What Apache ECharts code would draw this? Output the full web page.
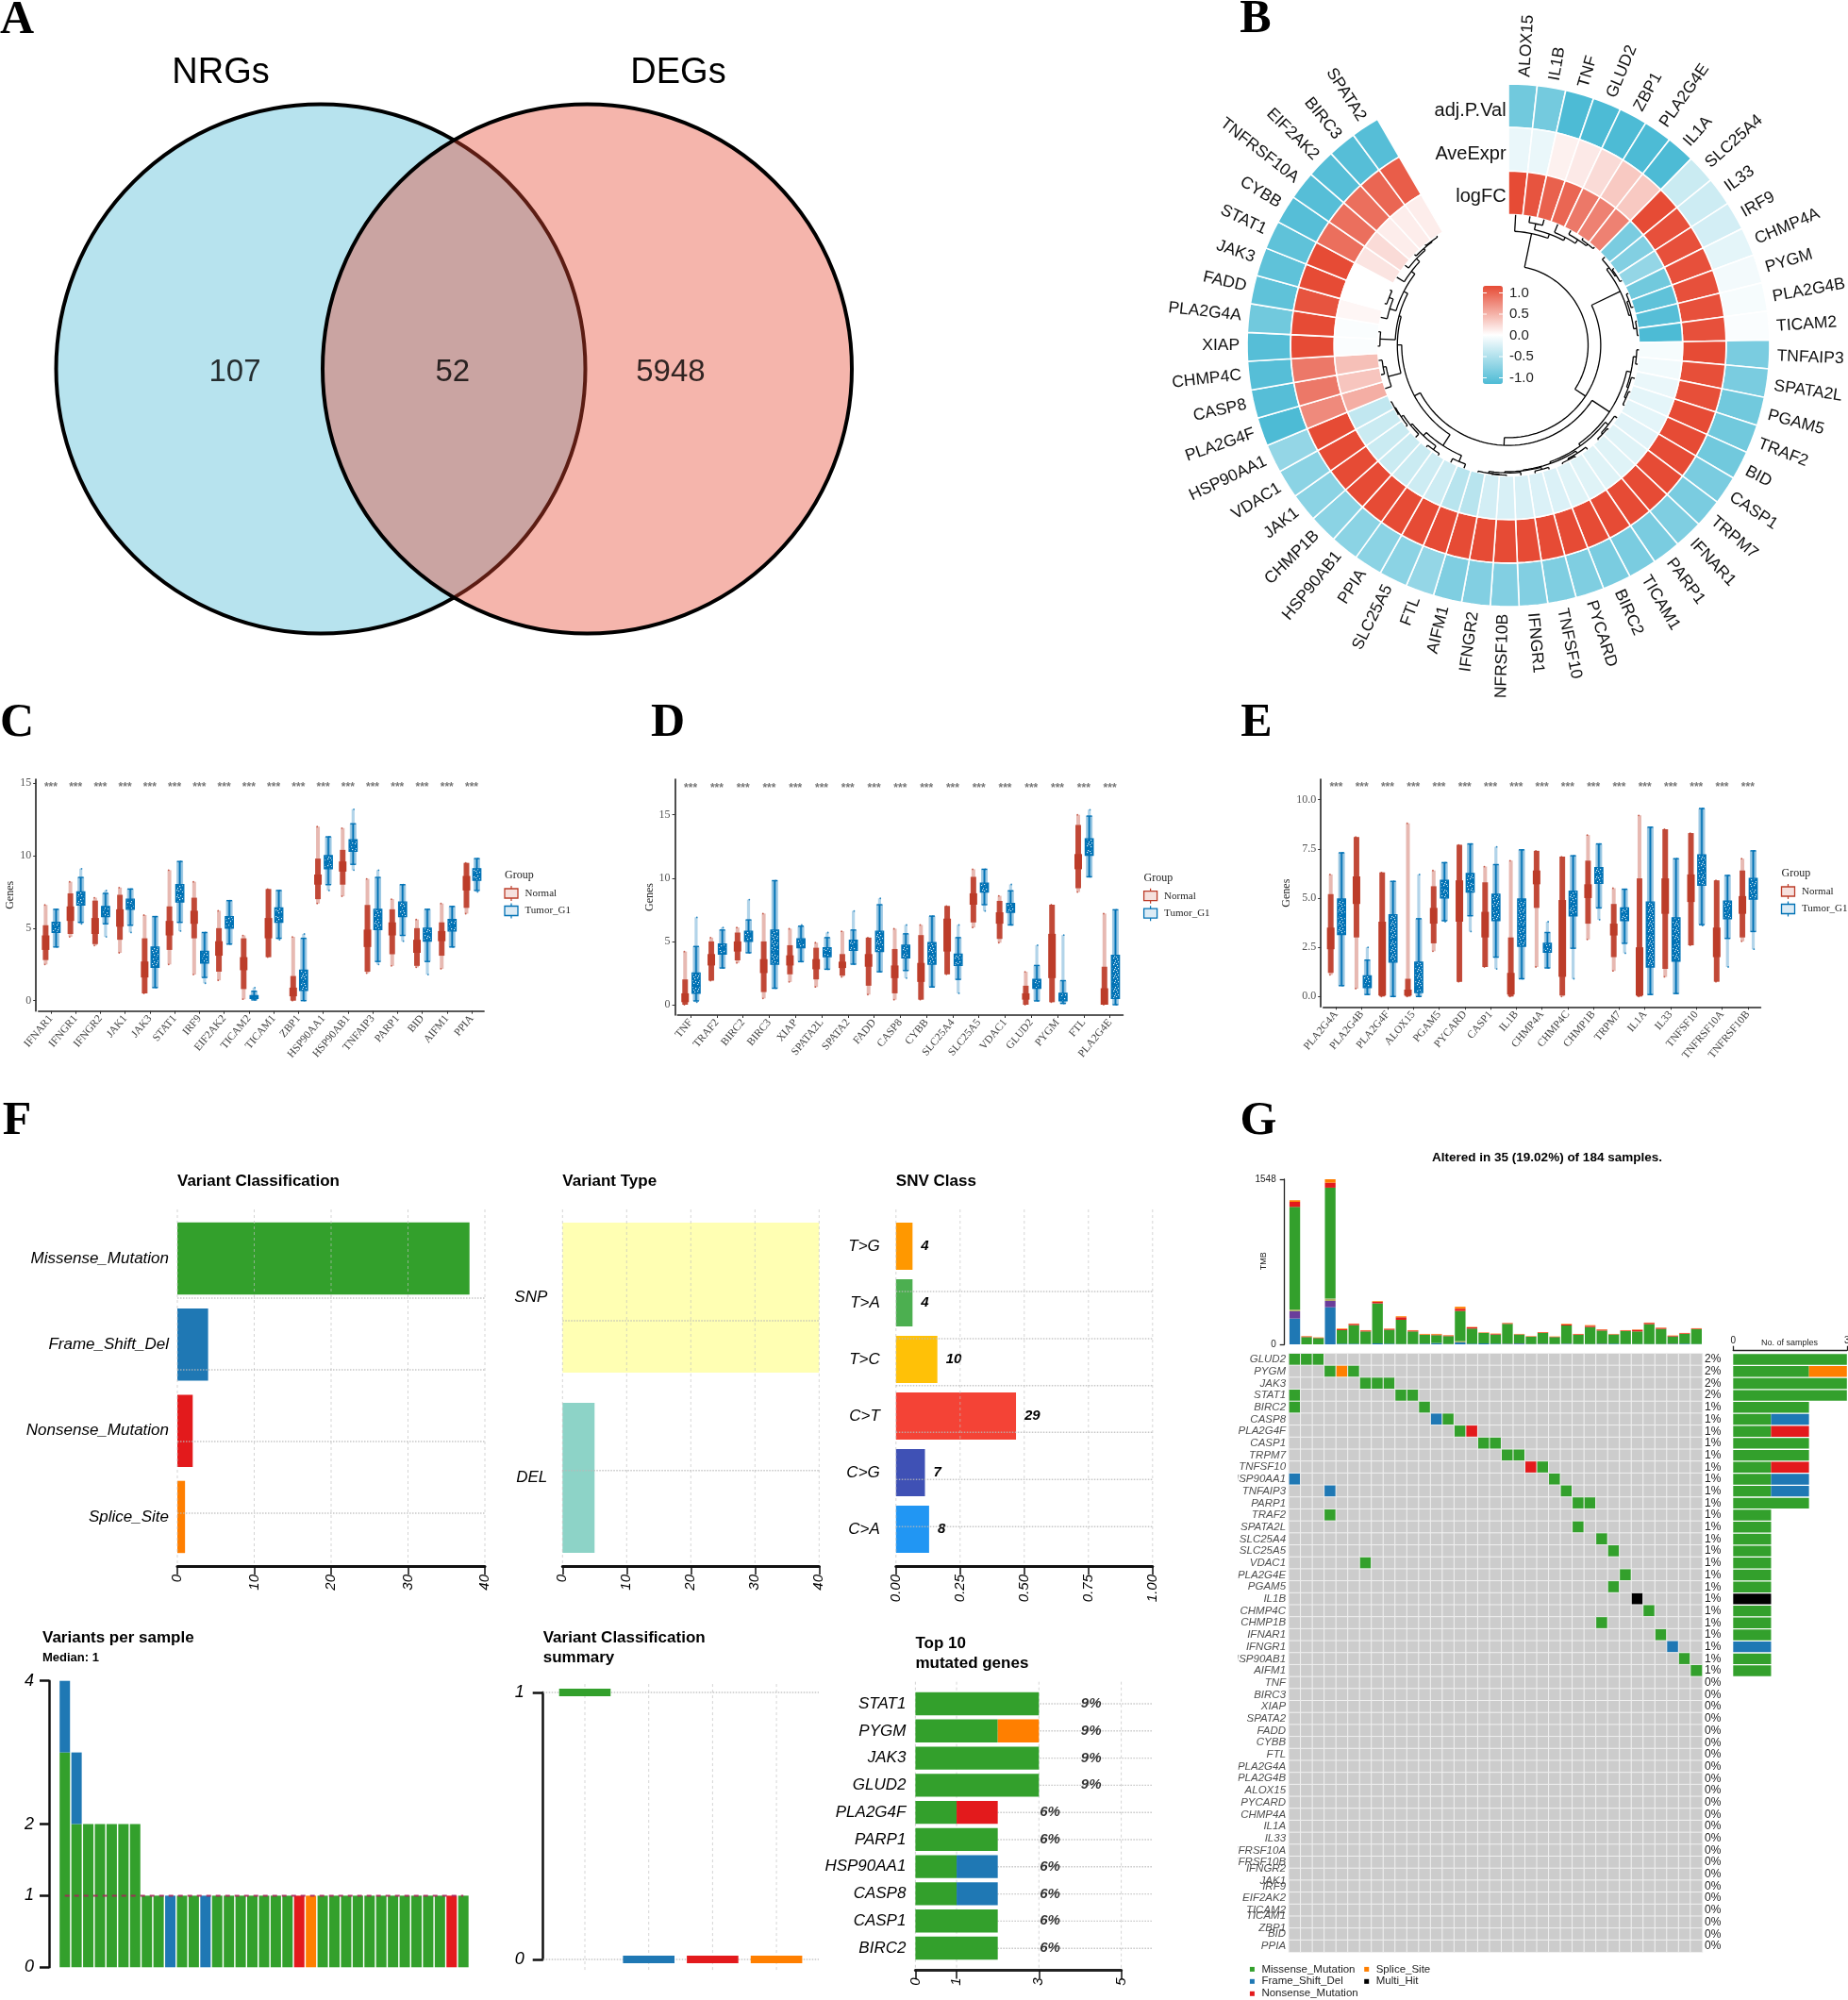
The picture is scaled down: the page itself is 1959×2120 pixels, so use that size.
<!DOCTYPE html>
<html><head><meta charset="utf-8">
<style>html,body{margin:0;padding:0;background:#fff}#c{width:1959px;height:2120px}</style>
<script src="https://cdn.jsdelivr.net/npm/echarts@6/dist/echarts.min.js"></script>
</head><body><div id="c"></div>
<script>
// ---------- DATA ----------
const vennCounts = [107, 52, 5948];
const ringGenes = ['ALOX15','IL1B','TNF','GLUD2','ZBP1','PLA2G4E','IL1A','SLC25A4','IL33','IRF9','CHMP4A','PYGM','PLA2G4B','TICAM2','TNFAIP3','SPATA2L','PGAM5','TRAF2','BID','CASP1','TRPM7','IFNAR1','PARP1','TICAM1','BIRC2','PYCARD','TNFSF10','IFNGR1','TNFRSF10B','IFNGR2','AIFM1','FTL','SLC25A5','PPIA','HSP90AB1','CHMP1B','JAK1','VDAC1','HSP90AA1','PLA2G4F','CASP8','CHMP4C','XIAP','PLA2G4A','FADD','JAK3','STAT1','CYBB','TNFRSF10A','EIF2AK2','BIRC3','SPATA2'];
const ringAdjP = [-.8,-.78,-1,-1,-1,-1,-1,-.3,-.28,-.25,-.15,-.07,-.05,-.03,-.75,-.75,-.8,-.8,-.8,-.75,-.75,-.72,-.75,-.75,-.75,-.72,-.72,-.7,-.7,-.7,-.72,-.6,-.65,-.65,-.65,-.65,-.65,-.65,-.6,-1,-.95,-.95,-.95,-.8,-.9,-.9,-.9,-.95,-.95,-.95,-.95,-.95];
const ringAveExpr = [-.12,-.12,.08,.12,.2,.3,.3,1,.97,.97,.97,.97,.97,.97,1,.98,.98,1,1,1,1,1,1,1,1,1,1,1,1,1,1,1,1,1,1,1,1,1,1,.65,.75,.75,1,1,.95,1,1,.8,.8,.8,.85,.9];
const ringLogFC = [1,.95,.88,.85,.75,.7,.7,-.75,-.7,-.6,-.8,-.9,-.95,-1,-.05,-.08,-.12,-.15,-.15,-.17,-.18,-.18,-.18,-.18,-.18,-.2,-.2,-.22,-.22,-.25,-.4,-.4,-.28,-.28,-.3,-.3,-.3,-.3,-.35,.45,.32,.35,-.03,-.03,.05,0,0,.15,.2,.1,.1,.1];
const ringTitles = ['adj.P.Val','AveExpr','logFC'];
const ringTicks = ['1.0','0.5','0.0','-0.5','-1.0'];
// dendrogram: [merge height, child, child]; a number is a gene position
const treeTop = [2.62,0,[2.72,[2.86,1,2],[2.8,3,[2.9,4,[2.95,5,6]]]]];
const treeMid = [2.85,[2.92,7,[2.95,8,9]],[2.9,[2.95,10,11],[2.97,12,13]]];
const treeRight = [2.78,[2.88,[2.95,14,15],[2.92,16,[2.96,17,18]]],[2.84,[2.93,19,[2.97,20,21]],[2.88,[2.94,22,[2.97,23,24]],[2.9,[2.95,25,26],[2.93,27,[2.97,[2.98,28,29],30]]]]]];
const treeBottom = [2.75,[2.9,31,32],[2.85,[2.95,33,34],[2.9,35,[2.96,36,[2.98,37,38]]]]];
const treeLeft = [2.55,[2.85,39,[2.92,40,41]],[2.6,[2.95,42,43],[2.7,[2.85,44,[2.95,45,46]],[2.8,47,[2.9,48,[2.95,49,[2.97,50,51]]]]]]];
const treeRoot = [1.83,treeTop,[2.12,treeMid,[2.3,treeRight,[2.45,treeBottom,treeLeft]]]];

// box rows: extreme low, whisker low, q1, median, q3, whisker high, extreme high
const cGenes = ['IFNAR1','IFNGR1','IFNGR2','JAK1','JAK3','STAT1','IRF9','EIF2AK2','TICAM2','TICAM1','ZBP1','HSP90AA1','HSP90AB1','TNFAIP3','PARP1','BID','AIFM1','PPIA'];
const cNormal = [[2.5,2.8,3.5,4,4.5,5.2,6.6],[4.4,4.6,5.5,6,6.5,7.4,8.2],[3.8,3.9,4.6,5.2,5.7,6.9,7.1],[3.3,4.2,5.1,5.7,6.3,7.3,7.8],[.5,.5,1.6,2.1,2.7,4.3,5.9],[2.5,3.5,4.5,5,5.5,6.5,9],[1.8,4.3,5.3,5.7,6.2,7.1,8.2],[1.4,2,3.1,3.6,4.1,5,6.2],[.1,.8,2.1,2.6,3,4.3,4.5],[3,3,4.3,5,5.7,7.7,7.7],[0,0,.3,.6,.9,1.7,4.4],[6.7,7,8,8.4,8.7,9.8,12],[7.2,8,8.9,9.2,9.6,10.4,11.9],[1.9,2,3.7,4.3,4.9,6.6,8.4],[2.4,3.2,4.5,5,5.4,6.3,7],[2.3,2.4,3.3,3.7,4.2,5,5.6],[2.2,3.1,4.1,4.5,4.8,5.4,6.7],[6,6.4,7.6,8.1,8.6,9.5,9.5]];
const cTumor = [[3.7,3.7,4.7,5.1,5.4,6.3,6.3],[5.3,5.4,6.6,7.1,7.5,8.5,9.1],[4.4,5.3,5.8,6.2,6.5,7.4,7.6],[4.7,5.2,6.3,6.6,7,7.7,7.7],[.9,.9,2.3,3,3.7,5.8,5.8],[4.8,5.4,6.8,7.4,8,9.6,9.6],[1.2,1.6,2.6,3,3.4,4.7,4.7],[3.9,3.9,5,5.3,5.8,6.9,6.9],[.05,.05,.15,.25,.35,.65,.9],[4.2,4.3,5.4,5.9,6.4,7.6,7.6],[0,0,.7,1.3,2.1,4.3,4.6],[7.6,8,9.1,9.5,10,11.3,11.3],[9,9.4,10.3,10.7,11.1,12.2,13.2],[2.5,2.7,4.9,5.7,6.3,8.5,9],[4.1,4.5,5.8,6.3,6.8,8,8],[1.8,2.7,4.1,4.6,5,6.3,6.3],[3.7,3.7,4.8,5.2,5.6,6.5,6.5],[7.5,7.6,8.3,8.7,9.1,9.8,9.8]];
const dGenes = ['TNF','TRAF2','BIRC2','BIRC3','XIAP','SPATA2L','SPATA2','FADD','CASP8','CYBB','SLC25A4','SLC25A5','VDAC1','GLUD2','PYGM','FTL','PLA2G4E'];
const dNormal = [[0,0,.2,.5,.9,2,4.2],[1.9,1.9,3.1,3.6,4,5,5.3],[3.3,3.5,4.2,4.6,5,5.7,6.1],[.5,1,2.5,3,3.6,5,7.2],[1.8,2.4,3.1,3.5,3.9,4.7,6],[1.4,2,2.8,3.2,3.6,4.5,4.9],[2.2,2.3,2.9,3.2,3.4,4,5.8],[.8,1.5,3,3.5,4,5.3,5.3],[.4,.9,2.1,2.6,3.1,4.4,6],[.4,.4,1.8,2.6,3.3,5.5,6.3],[2.4,2.4,4.2,5.5,6.8,7.8,7.8],[6.1,6.5,7.9,8.3,8.8,10.1,10.7],[4.9,5.2,6.4,6.9,7.3,8.2,8.6],[0,0,.4,.6,.9,1.5,2.6],[.2,.2,2.1,4,5.6,7.9,7.9],[8.9,9.2,10.7,11.4,11.9,14.2,15],[0,0,0,.3,1.3,3,7.2]];
const dTumor = [[.2,.3,.9,1.5,2.5,4.6,6.9],[2.9,2.9,4,4.4,4.8,5.9,6.1],[4.1,4.1,5,5.4,5.8,6.7,8.3],[1.3,1.3,3.2,4.2,5.9,9.8,9.8],[3.4,3.4,4.5,4.9,5.2,6.2,6.3],[2.8,2.8,3.8,4.1,4.5,5.3,5.7],[3.2,3.2,4.3,4.7,5.1,5.9,7.4],[2.6,2.6,4.2,4.6,5.8,7.9,8.4],[2.1,2.7,3.7,4.2,4.7,5.6,6.3],[1.4,1.4,3.2,4,4.9,7,7],[.9,2,3.1,3.5,4,5.3,6.3],[7.4,7.9,8.9,9.3,9.6,10.7,10.7],[6.3,6.3,7.3,7.7,8,9,9.5],[.3,.3,1.3,1.6,2,3.1,4.7],[.1,.1,.3,.6,.9,1.9,5.5],[10.1,10.1,11.8,12.3,13.1,14.9,15.4],[0,0,.5,1.6,3.9,7.5,7.5]];
const eGenes = ['PLA2G4A','PLA2G4B','PLA2G4F','ALOX15','PGAM5','PYCARD','CASP1','IL1B','CHMP4A','CHMP4C','CHMP1B','TRPM7','IL1A','IL33','TNFSF10','TNFRSF10A','TNFRSF10B'];
const eNormal = [[1.1,1.2,2.4,2.9,3.5,5.2,6.2],[.4,3,4.7,5.4,6.1,8.1,8.1],[0,0,.05,1.5,3.8,6.3,6.3],[0,0,.05,.2,.35,.9,8.8],[2.3,2.7,3.7,4.1,4.5,5.6,6.4],[.75,.75,3.8,4.7,5.9,7.7,7.7],[1.5,1.5,3,3.5,4.3,5.8,6.6],[0,0,.1,.5,1.2,3,6.9],[1.5,4.5,5.7,6.1,6.4,7.4,7.4],[0,.05,1,2.5,4.9,7.1,7.1],[2.9,3.7,5,5.4,5.7,6.9,8.2],[1.3,2,3.1,3.4,3.7,4.7,5.5],[0,0,.05,.9,2.5,6,9.2],[1,1.4,4.2,5.4,6,8.5,8.5],[2.6,2.6,4.8,5.5,6.2,8.3,8.3],[.75,.75,2,2.7,3.5,5.9,5.9],[2.8,3,4.2,4.7,5.1,6.4,7]];
const eTumor = [[.55,.55,3.15,4.1,4.95,7.3,7.3],[.1,.1,.45,.65,1.05,1.85,2.5],[0,0,1.75,2.9,4.15,5.85,5.85],[0,0,.2,.4,1.75,3.95,6.2],[3.8,3.85,5,5.5,5.9,6.8,6.8],[3.3,4.1,5.3,5.85,6.25,7.75,7.75],[1.4,2,3.85,4.4,5.2,6.7,7.6],[.9,.9,2.55,3.55,4.95,7.45,7.45],[1.45,1.45,2.25,2.5,2.7,3.25,3.8],[.9,2.45,4.1,4.7,5.35,7.15,7.15],[3.9,4.5,5.75,6.2,6.55,7.75,7.75],[2.2,2.7,3.85,4.2,4.5,5.45,5.45],[.1,.1,1.5,3.2,4.8,8.6,8.6],[.15,.15,1.8,2.75,4,7,7],[3.6,3.65,5.65,6.4,7.2,9.55,9.55],[1.5,2.95,3.95,4.35,4.85,6.15,6.15],[2.4,3.3,4.95,5.5,6,7.4,7.4]];

const vcCats = ['Missense_Mutation','Frame_Shift_Del','Nonsense_Mutation','Splice_Site'];
const vcValues = [38,4,2,1];
const vtCats = ['SNP','DEL'];
const vtValues = [40,5];
const snvCats = ['T>G','T>A','T>C','C>T','C>G','C>A'];
const snvCounts = [4,4,10,29,7,8];
const snvTotal = 62;
const vpsMissense = [3,2,2,2,2,2,2,1,1,0,1,1,0,1,1,1,1,1,1,1,0,0,1,1,1,1,1,1,1,1,1,1,1,0,1];
const vpsFrame    = [1,1,0,0,0,0,0,0,0,1,0,0,1,0,0,0,0,0,0,0,0,0,0,0,0,0,0,0,0,0,0,0,0,0,0];
const vpsNonsense = [0,0,0,0,0,0,0,0,0,0,0,0,0,0,0,0,0,0,0,0,1,0,0,0,0,0,0,0,0,0,0,0,0,1,0];
const vpsSplice   = [0,0,0,0,0,0,0,0,0,0,0,0,0,0,0,0,0,0,0,0,0,1,0,0,0,0,0,0,0,0,0,0,0,0,0];
const summaryY = [1,0,0,0];
const topGenes = ['STAT1','PYGM','JAK3','GLUD2','PLA2G4F','PARP1','HSP90AA1','CASP8','CASP1','BIRC2'];
const topMissense = [3,2,3,3,1,2,1,1,2,2];
const topFrame = [0,0,0,0,0,0,1,1,0,0];
const topNonsense = [0,0,0,0,1,0,0,0,0,0];
const topSplice = [0,1,0,0,0,0,0,0,0,0];
const topPct = ['9%','9%','9%','9%','6%','6%','6%','6%','6%','6%'];

const tmbFrame = [242,0,0,348,6,6,3,9,6,3,3,6,12,3,18,6,9,6,3,6,3,3,3,6,3,3,3,6,3,3,3,3,3,6,3];
const tmbInframe = [68,0,0,59,0,0,0,0,0,0,0,0,0,0,0,0,0,0,3,3,0,3,0,0,0,0,3,0,0,0,0,0,3,0,0];
const tmbOther = [15,0,0,21,0,0,0,0,0,0,0,0,0,0,12,0,0,0,0,0,0,0,0,3,0,0,0,0,0,0,0,0,0,0,0];
const tmbMissense = [964,68,59,1041,127,174,118,375,130,227,118,83,74,74,283,142,97,86,186,83,68,100,65,168,86,159,123,86,121,118,186,142,68,92,139];
const tmbNonsense = [47,6,3,47,9,12,9,15,9,24,9,3,6,6,21,12,3,6,6,3,3,6,3,9,6,12,9,3,6,15,12,9,6,6,6];
const tmbSplice = [15,3,3,32,6,3,3,6,3,9,3,6,6,3,18,3,3,3,3,3,3,3,3,6,3,6,3,3,3,3,3,3,3,3,3];
const oncoLabels = ['GLUD2','PYGM','JAK3','STAT1','BIRC2','CASP8','PLA2G4F','CASP1','TRPM7','TNFSF10','HSP90AA1','TNFAIP3','PARP1','TRAF2','SPATA2L','SLC25A4','SLC25A5','VDAC1','PLA2G4E','PGAM5','IL1B','CHMP4C','CHMP1B','IFNAR1','IFNGR1','HSP90AB1','AIFM1','TNF','BIRC3','XIAP','SPATA2','FADD','CYBB','FTL','PLA2G4A','PLA2G4B','ALOX15','PYCARD','CHMP4A','IL1A','IL33','TNFRSF10A','TNFRSF10B','IFNGR2','JAK1','IRF9','EIF2AK2','TICAM2','TICAM1','ZBP1','BID','PPIA'];
const oncoLabelRows = [0,1,2,3,4,5,6,7,8,9,10,11,12,13,14,15,16,17,18,19,20,21,22,23,24,25,26,27,28,29,30,31,32,33,34,35,36,37,38,39,40,41,42,42.55,43.55,44.05,45,46,46.5,47.5,48,49];
// row, sample, class (1 missense, 2 frame shift, 3 nonsense, 4 splice, 5 multi hit)
const oncoHits = [[0,0,1],[0,1,1],[0,2,1],[1,3,1],[1,4,4],[1,5,1],[2,6,1],[2,7,1],[2,8,1],[3,0,1],[3,9,1],[3,10,1],[4,0,1],[4,11,1],[5,12,2],[5,13,1],[6,14,1],[6,15,3],[7,16,1],[7,17,1],[8,18,1],[8,19,1],[9,20,3],[9,21,1],[10,0,2],[10,22,1],[11,3,2],[11,23,1],[12,24,1],[12,25,1],[13,3,1],[14,24,1],[15,26,1],[16,27,1],[17,6,1],[18,28,1],[19,27,1],[20,29,5],[21,30,1],[22,26,1],[23,31,1],[24,32,2],[25,33,1],[26,34,1]];
const oncoPct = ['2%','2%','2%','2%','1%','1%','1%','1%','1%','1%','1%','1%','1%','1%','1%','1%','1%','1%','1%','1%','1%','1%','1%','1%','1%','1%','1%','0%','0%','0%','0%','0%','0%','0%','0%','0%','0%','0%','0%','0%','0%','0%','0%','0%','0%','0%','0%','0%','0%','0%'];
const sideMissense = [3,2,3,3,2,1,1,2,2,1,1,1,2,1,1,1,1,1,1,1,0,1,1,1,0,1,1];
const sideFrame    = [0,0,0,0,0,1,0,0,0,0,1,1,0,0,0,0,0,0,0,0,0,0,0,0,1,0,0];
const sideNonsense = [0,0,0,0,0,0,1,0,0,1,0,0,0,0,0,0,0,0,0,0,0,0,0,0,0,0,0];
const sideSplice   = [0,1,0,0,0,0,0,0,0,0,0,0,0,0,0,0,0,0,0,0,0,0,0,0,0,0,0];
const sideMulti    = [0,0,0,0,0,0,0,0,0,0,0,0,0,0,0,0,0,0,0,0,1,0,0,0,0,0,0];

// ---------- STYLE ----------
const SANS='"Liberation Sans",Arial,sans-serif', SERIF='"Liberation Serif",serif';
const GREEN='#33A02C',BLUE='#1F78B4',RED='#E31A1C',ORANGE='#FF7F00',PURPLE='#6A3D9A',OLIVE='#B2B266';
const NRED='#BC3C29',NBLUE='#0072B5';

const grid=[],xAxis=[],yAxis=[],series=[],graphic=[],visualMap=[];
const addGrid=(l,t,r,b)=>(grid.push({left:l,top:t,width:r-l,height:b-t,outerBoundsMode:'none'}),grid.length-1);
const addX=o=>(xAxis.push(o),xAxis.length-1);
const addY=o=>(yAxis.push(o),yAxis.length-1);
const hiddenVal=(g,min,max,extra)=>Object.assign({gridIndex:g,type:'value',min,max,show:false},extra||{});
function T(text,x,y,o){o=o||{};graphic.push({type:'text',x,y,rotation:o.rotation||0,z:o.z||50,silent:true,style:{text,fontFamily:o.family||SANS,fontSize:o.size||14,fontWeight:o.weight||'normal',fontStyle:o.style||'normal',fill:o.fill||'#000',align:o.align||'left',verticalAlign:'middle'}});}
function R(x,y,w,h,fill,z,stroke){graphic.push({type:'rect',z:z||40,silent:true,shape:{x,y,width:w,height:h},style:{fill,stroke:stroke||null,lineWidth:stroke?1.3:0}});}
function L(x1,y1,x2,y2,stroke,w){graphic.push({type:'line',z:41,silent:true,shape:{x1,y1,x2,y2},style:{stroke,lineWidth:w||1}});}
function lineSet(xi,yi,segs,style,z){
  const d=[];segs.forEach(s=>{d.push([s[0],s[1]],[s[2],s[3]],['-','-']);});
  series.push({type:'line',xAxisIndex:xi,yAxisIndex:yi,data:d,showSymbol:false,silent:true,clip:false,connectNulls:false,lineStyle:style,z:z||3,animation:false});
}

// panel letters
[['A',18,22],['B',1331,21],['C',18,767],['D',708,767],['E',1332,767],['F',18,1189],['G',1334,1189]].forEach(p=>T(p[0],p[1],p[2],{family:SERIF,size:50,weight:'bold',align:'center'}));

// ---------- A: Venn ----------
(function(){
  const g=addGrid(340,251,622.5,531);
  const x=addX(hiddenVal(g,0,1)), y=addY(hiddenVal(g,0,1));
  const base={type:'scatter',xAxisIndex:x,yAxisIndex:y,clip:false,silent:true,symbol:'circle',symbolSize:561};
  series.push(Object.assign({},base,{data:[[0,.5]],z:2,itemStyle:{color:'#B7E3EE',borderColor:'#000',borderWidth:4,opacity:1}}));
  series.push(Object.assign({},base,{data:[[1,.5]],z:3,itemStyle:{color:'rgba(230,70,47,0.40)',borderColor:'#000',borderWidth:4,opacity:1}}));
  series.push({type:'scatter',xAxisIndex:x,yAxisIndex:y,clip:false,silent:true,symbolSize:1,z:4,itemStyle:{color:'rgba(0,0,0,0)'},
    data:[[-.322,.486],[.495,.486],[1.313,.486]].map((p,i)=>({value:p,label:{show:true,position:'inside',formatter:String(vennCounts[i]),fontFamily:SANS,fontSize:33,color:'#000',textBorderWidth:0}}))});
  T('NRGs',234,78,{size:38,align:'center'});
  T('DEGs',719,78,{size:38,align:'center'});
})();

// ---------- B: circular heatmap ----------
const slots=56.74;
const polar={center:[1599,366],radius:[0,277]};
const angleAxis={type:'value',min:0,max:slots,startAngle:90,clockwise:true,show:false};
const radiusAxis={type:'value',min:0,max:6,show:false};
(function(){
  const data=[];
  ringGenes.forEach((g,i)=>{data.push([i,5,ringAdjP[i]],[i,4,ringAveExpr[i]],[i,3,ringLogFC[i]]);});
  series.push({type:'custom',coordinateSystem:'polar',encode:{angle:0,radius:1},data,silent:true,z:3,
    renderItem(p,api){
      const a=api.value(0),r=api.value(1),pts=[];
      for(let k=0;k<=3;k++){const c=api.coord([r,a+k/3]);pts.push([c[0],c[1]]);}
      for(let k=3;k>=0;k--){const c=api.coord([r+1,a+k/3]);pts.push([c[0],c[1]]);}
      return {type:'polygon',shape:{points:pts},style:{fill:api.visual('color'),stroke:'#fff',lineWidth:1.6}};
    }});
  visualMap.push({type:'continuous',seriesIndex:series.length-1,dimension:2,min:-1,max:1,calculable:false,hoverLink:false,padding:0,left:1572,top:303,itemWidth:21,itemHeight:104,inRange:{color:['#4DBBD5','#FFFFFF','#E64B35']}});
  // dendrogram
  series.push({type:'custom',coordinateSystem:'polar',encode:{angle:0,radius:1},data:[[0,0]],silent:true,z:4,
    renderItem(p,api){
      const kids=[];
      const pl=pts=>kids.push({type:'polyline',shape:{points:pts.map(q=>{const c=api.coord(q);return [c[0],c[1]];})},style:{stroke:'#000',lineWidth:1.3,fill:null}});
      function walk(n){
        if(typeof n==='number') return [n+.5,3];
        const A=walk(n[1]),B=walk(n[2]),r=n[0];
        pl([[A[1],A[0]],[r,A[0]]]);pl([[B[1],B[0]],[r,B[0]]]);
        const arc=[];const steps=Math.max(2,Math.ceil(Math.abs(B[0]-A[0])/.4));
        for(let k=0;k<=steps;k++)arc.push([r,A[0]+(B[0]-A[0])*k/steps]);
        pl(arc);
        return [(A[0]+B[0])/2,r];
      }
      walk(treeRoot);
      return {type:'group',children:kids};
    }});
  // gene labels
  series.push({type:'custom',coordinateSystem:'polar',encode:{angle:0,radius:1},data:ringGenes.map((g,i)=>[i+.55,6.17]),silent:true,z:5,
    renderItem(p,api){
      const c=api.coord([api.value(1),api.value(0)]);
      const th=api.value(0)/slots*360;
      const right=th<180;
      const rot=(right?90-th:270-th)*Math.PI/180;
      return {type:'text',x:c[0],y:c[1],rotation:rot,style:{text:ringGenes[p.dataIndex],fontFamily:SANS,fontSize:17.5,fill:'#111',align:right?'left':'right',verticalAlign:'middle'}};
    }});
  T(ringTitles[0],1596.6,117,{size:20,align:'right',fill:'#111'});
  T(ringTitles[1],1596.6,163,{size:20,align:'right',fill:'#111'});
  T(ringTitles[2],1596.6,208,{size:20,align:'right',fill:'#111'});
  [310.5,333,355.5,378,400.5].forEach((y,i)=>{T(ringTicks[i],1600,y,{size:15,fill:'#222'});L(1572,y,1576,y,'#fff',1);L(1589,y,1593,y,'#fff',1);});
  R(1500,739,200,20,'#fff',45); // the reference image cuts the lowest label here
})();

// ---------- C, D, E: box + jitter ----------
function tile(base,dots,dot){
  const c=document.createElement('canvas');c.width=7;c.height=7;const x=c.getContext('2d');
  x.fillStyle=base;x.fillRect(0,0,7,7);x.fillStyle=dot;dots.forEach(d=>x.fillRect(d[0],d[1],1.2,1.2));return c;
}
const blueTile=tile('#0072B5',[[1,1],[4,0],[6,3],[2,4],[5,5],[0,6]],'#D6EAF6');
const boxRender=(side,color,isBlue)=>function(p,api){
  const i=api.value(0),band=api.size([1,0])[0],cx=api.coord([i,0])[0]+side*band*.21;
  const y=v=>api.coord([i,v])[1];
  const v=[1,2,3,4,5,6,7].map(k=>y(api.value(k)));
  const kids=[];
  const rect=(w,a,b,style)=>kids.push({type:'rect',shape:{x:cx-w/2,y:b,width:w,height:Math.max(a-b,.6)},style});
  // spread of the samples beyond the whiskers, then inside them
  rect(isBlue?3.2:4,v[0],v[6],{fill:color,opacity:isBlue?.30:.36});
  if(isBlue){
    rect(7,v[1],v[5],{fill:color,opacity:.38});
    kids.push({type:'line',shape:{x1:cx,y1:v[1],x2:cx,y2:v[5]},style:{stroke:color,lineWidth:1.5}});
    [v[1],v[5]].forEach(yy=>kids.push({type:'line',shape:{x1:cx-3,y1:yy,x2:cx+3,y2:yy},style:{stroke:color,lineWidth:1.4}}));
    rect(8.4,v[2],v[4],{fill:{image:blueTile,repeat:'repeat'},stroke:color,lineWidth:1.3});
    kids.push({type:'line',shape:{x1:cx-4.2,y1:v[3],x2:cx+4.2,y2:v[3]},style:{stroke:color,lineWidth:2}});
  }else{
    rect(6,v[1],v[5],{fill:color,opacity:.9});
    rect(8,v[2],v[4],{fill:color});
  }
  [v[0],v[6]].forEach(yy=>kids.push({type:'circle',shape:{cx:cx+side*.8,cy:yy,r:.9},style:{fill:color,opacity:.8}}));
  return {type:'group',children:kids};
};
function boxPanel(c){
  const g=addGrid(c.first-c.step/2,c.top,c.last+c.step/2,c.bottom);
  const yTop=c.y0-c.top, pxPerUnit=c.pxPerUnit;
  const x=addX({gridIndex:g,type:'category',data:c.genes,boundaryGap:true,
    axisLine:{show:true,onZero:false,lineStyle:{color:'#222',width:1.6}},
    axisTick:{show:true,length:3,alignWithLabel:true,interval:0,lineStyle:{color:'#333'}},
    axisLabel:{interval:0,rotate:50,fontFamily:SERIF,fontSize:11.5,color:'#444',margin:6},splitLine:{show:false}});
  const y=addY({gridIndex:g,type:'value',min:-(c.bottom-c.y0)/pxPerUnit,max:yTop/pxPerUnit,offset:c.yOffset,
    name:'Genes',nameLocation:'middle',nameGap:c.nameGap,nameTextStyle:{fontFamily:SERIF,fontSize:12,color:'#222'},
    axisLine:{show:true,onZero:false,lineStyle:{color:'#222',width:1.6}},
    axisTick:{show:true,length:3,customValues:c.ticks,lineStyle:{color:'#333'}},
    axisLabel:{customValues:c.ticks,formatter:c.fmt,fontFamily:SERIF,fontSize:12,color:'#555',margin:5},splitLine:{show:false}});
  const rows=m=>m.map((r,i)=>[i].concat(r));
  const enc={x:0,y:[1,2,3,4,5,6,7]};
  series.push({type:'custom',name:'Normal',xAxisIndex:x,yAxisIndex:y,encode:enc,data:rows(c.normal),renderItem:boxRender(-1,NRED,false),silent:true,z:3,clip:false});
  series.push({type:'custom',name:'Tumor_G1',xAxisIndex:x,yAxisIndex:y,encode:enc,data:rows(c.tumor),renderItem:boxRender(1,NBLUE,true),silent:true,z:3,clip:false});
  series.push({type:'scatter',xAxisIndex:x,yAxisIndex:y,symbolSize:1,silent:true,z:4,itemStyle:{color:'rgba(0,0,0,0)'},data:c.genes.map((g,i)=>[i,c.star]),
    label:{show:true,position:'inside',formatter:'***',fontFamily:SANS,fontSize:12,fontWeight:'bold',color:'#555'}});
  // legend
  const lx=c.legX,tx=lx+21.5;
  T('Group',lx+(c.groupDx||0),c.legY,{family:SERIF,size:12,fill:'#222'});
  [[NRED,'#F6E1DE','Normal'],[NBLUE,'#DCEBF5','Tumor_G1']].forEach((s,i)=>{
    const yy=c.legY+19+i*18.5;
    L(lx+7,yy-8,lx+7,yy+8,s[0],1.2);
    R(lx,yy-5,14,10,s[1],42,s[0]);
    L(lx,yy,lx+14,yy,s[0],1.4);
    T(s[2],tx,yy,{family:SERIF,size:11,fill:'#222'});
  });
}
boxPanel({genes:cGenes,normal:cNormal,tumor:cTumor,first:53.9,last:500,step:26.24,top:826,bottom:1071.7,y0:1060.7,pxPerUnit:15.37,yOffset:2.6,nameGap:17,ticks:[0,5,10,15],star:14.7,legX:535,legY:928,groupDx:0});
boxPanel({genes:dGenes,normal:dNormal,tumor:dTumor,first:732.1,last:1176.6,step:27.78,top:826,bottom:1076,y0:1065,pxPerUnit:13.42,yOffset:2.6,nameGap:18,ticks:[0,5,10,15],star:17.1,legX:1212.6,legY:930.7,groupDx:0});
boxPanel({genes:eGenes,normal:eNormal,tumor:eTumor,first:1416.4,last:1852.8,step:27.27,top:826,bottom:1067.3,y0:1056.3,pxPerUnit:20.87,yOffset:2.6,nameGap:26,ticks:[0,2.5,5,7.5,10],fmt:v=>v.toFixed(1),star:10.6,legX:1888.5,legY:926,groupDx:0});

// ---------- F: upper bar panels ----------
const DASH={color:'rgba(190,190,190,.65)',width:1,type:[3,3]};
const DOT={color:'rgba(185,185,185,.8)',width:1.4,type:[1.5,1.5]};
function barPanel(c){
  const fg=addGrid(c.x0,c.ft,c.x1,c.fb);
  const fx=addX({gridIndex:fg,type:'value',min:0,max:c.xmax,interval:c.interval,position:'bottom',
    axisLine:{show:true,onZero:false,lineStyle:{color:'#111',width:3}},
    axisTick:{show:true,length:9,lineStyle:{color:'#111',width:1.5}},
    axisLabel:{rotate:90,fontFamily:SANS,fontStyle:'italic',fontSize:15,color:'#000',margin:9,formatter:c.fmt},splitLine:{show:false}});
  const fy=addY(hiddenVal(fg,c.ft,c.fb,{inverse:true}));
  const bg=addGrid(c.x0,c.bt,c.x1,c.bb);
  const bx=addX(hiddenVal(bg,0,c.xmax));
  const by=addY({gridIndex:bg,type:'category',inverse:true,data:c.cats,axisLine:{show:false,onZero:false},axisTick:{show:false},
    axisLabel:{interval:0,fontFamily:SANS,fontStyle:'italic',fontSize:17,color:'#000',margin:c.margin||9}});
  series.push({type:'bar',xAxisIndex:bx,yAxisIndex:by,barWidth:c.barW,silent:true,z:2,
    data:c.vals.map((v,i)=>({value:v,itemStyle:{color:c.colors[i]}})),
    label:c.labels?{show:true,position:'right',distance:9,formatter:p=>c.labels[p.dataIndex],fontFamily:SANS,fontStyle:'italic',fontWeight:'bold',fontSize:15,color:'#000'}:{show:false}});
  const ticks=[];for(let k=0;k<=c.xmax+1e-9;k+=c.interval)ticks.push(k);
  lineSet(fx,fy,ticks.map(t=>[t,c.ft,t,c.fb]),DASH,3);
  lineSet(fx,fy,c.hl.map(yy=>[c.hlFrom||0,yy,c.xmax,yy]),DOT,3);
  T(c.title,c.x0,1252,{size:17,weight:'bold'});
}
barPanel({title:'Variant Classification',x0:188,x1:514,ft:1282,fb:1660,bt:1288.4,bb:1653.6,xmax:40,interval:10,cats:vcCats,vals:vcValues,colors:[GREEN,BLUE,RED,ORANGE],barW:76.5,hl:[1376,1452,1528,1604]});
barPanel({title:'Variant Type',x0:596.3,x1:868.3,ft:1282,fb:1660,bt:1280,bb:1662,xmax:40,interval:10,cats:vtCats,vals:vtValues,colors:['#FFFFB3','#8DD3C7'],barW:159,hl:[1400,1558.7],margin:16});
barPanel({title:'SNV Class',x0:949.8,x1:1221.8,ft:1282,fb:1660,bt:1291,bb:1651,xmax:1,interval:.25,fmt:v=>v.toFixed(2),cats:snvCats,vals:snvCounts.map(n=>n/snvTotal),colors:['#FF9800','#4CAF50','#FFC107','#F44336','#3F51B5','#2196F3'],barW:50,hl:[1369,1419,1468.7,1518.3,1568.3,1618.3],labels:snvCounts,margin:17});

// ---------- F: variants per sample ----------
(function(){
  const g=addGrid(62.5,1781.7,497.4,2085.3);
  const samples=vpsMissense.map((v,i)=>'S'+(i+1));
  const x=addX({gridIndex:g,type:'category',data:samples,axisLine:{show:false},axisTick:{show:false},axisLabel:{show:false}});
  const y=addY({gridIndex:g,type:'value',min:0,max:4,offset:10.5,
    axisLine:{show:true,onZero:false,lineStyle:{color:'#111',width:2.5}},
    axisTick:{show:true,length:10,customValues:[0,1,2,4],lineStyle:{color:'#111',width:2.5}},
    axisLabel:{customValues:[0,1,2,4],fontFamily:SANS,fontStyle:'italic',fontSize:18,color:'#000',margin:16},splitLine:{show:false}});
  [[vpsMissense,GREEN],[vpsFrame,BLUE],[vpsNonsense,RED],[vpsSplice,ORANGE]].forEach(s=>series.push({type:'bar',stack:'vps',xAxisIndex:x,yAxisIndex:y,data:s[0],barWidth:11,silent:true,z:2,itemStyle:{color:s[1]}}));
  lineSet(x,y,[[0,1,34,1]],{color:'rgba(170,30,90,.85)',width:2,type:[5,5]},4);
  T('Variants per sample',45,1736,{size:17,weight:'bold'});
  T('Median: 1',45,1757.7,{size:13,weight:'bold'});
})();

// ---------- F: variant classification summary ----------
(function(){
  const g=addGrid(575.7,1794,868,2077);
  const x=addX(hiddenVal(g,-(620-575.7)/67.7,(868-620)/67.7));
  const y=addY({gridIndex:g,type:'value',min:0,max:1,interval:1,
    axisLine:{show:true,onZero:false,lineStyle:{color:'#111',width:2.5}},
    axisTick:{show:true,length:11,lineStyle:{color:'#111',width:2.5}},
    axisLabel:{fontFamily:SANS,fontStyle:'italic',fontSize:18,color:'#000',margin:20},splitLine:{show:false}});
  lineSet(x,y,[0,1,2,3].map(i=>[i,-.039,i,1.04]),DASH,2);
  lineSet(x,y,[[-.654,1,3.663,1],[-.654,0,3.663,0]],DOT,2);
  const cols=[GREEN,BLUE,RED,ORANGE];
  series.push({type:'scatter',xAxisIndex:x,yAxisIndex:y,symbol:'rect',symbolSize:[54.6,8],silent:true,clip:false,z:3,
    data:summaryY.map((v,i)=>({value:[i,v],itemStyle:{color:cols[i],opacity:1}}))});
  T('Variant Classification',575.7,1736,{size:17,weight:'bold'});
  T('summary',575.7,1757,{size:17,weight:'bold'});
})();

// ---------- F: top 10 genes ----------
(function(){
  const fg=addGrid(970.4,1782.7,1221.8,2088.3);
  const fx=addX(hiddenVal(fg,0,(1221.8-970.4)/43.64));
  const fy=addY(hiddenVal(fg,1782.7,2088.3,{inverse:true}));
  lineSet(fx,fy,[0,1,3,5].map(v=>[v,1782.7,v,2088.3]),DASH,1);
  const rowY=i=>1806+i*28.8;
  lineSet(fx,fy,topGenes.map((g,i)=>[0,rowY(i),(1221.8-970.4)/43.64,rowY(i)]),DOT,1);
  const g=addGrid(970.4,1791.6,1188.6,2079.4);
  const x=addX({gridIndex:g,type:'value',min:0,max:5,offset:9,
    axisLine:{show:true,onZero:false,lineStyle:{color:'#222',width:3}},
    axisTick:{show:true,length:9,customValues:[0,1,3,5],lineStyle:{color:'#111',width:1.5}},
    axisLabel:{customValues:[0,1,3,5],rotate:90,fontFamily:SANS,fontStyle:'italic',fontSize:15,color:'#000',margin:8},splitLine:{show:false}});
  const y=addY({gridIndex:g,type:'category',inverse:true,data:topGenes,axisLine:{show:false,onZero:false},axisTick:{show:false},
    axisLabel:{interval:0,fontFamily:SANS,fontStyle:'italic',fontSize:17,color:'#000',margin:10}});
  [[topMissense,GREEN],[topFrame,BLUE],[topNonsense,RED],[topSplice,ORANGE]].forEach(s=>series.push({type:'bar',stack:'top',xAxisIndex:x,yAxisIndex:y,data:s[0],barWidth:24.3,silent:true,z:2,itemStyle:{color:s[1]}}));
  series.push({type:'scatter',xAxisIndex:x,yAxisIndex:y,symbolSize:1,silent:true,z:4,itemStyle:{color:'rgba(0,0,0,0)'},
    data:topGenes.map((n,i)=>[topMissense[i]+topFrame[i]+topNonsense[i]+topSplice[i],i]),
    label:{show:true,position:'right',distance:44,formatter:p=>topPct[p.dataIndex],fontFamily:SANS,fontStyle:'italic',fontWeight:'bold',fontSize:15,color:'#000'}});
  T('Top 10',970.4,1742.3,{size:17,weight:'bold'});
  T('mutated genes',970.4,1763,{size:17,weight:'bold'});
})();

// ---------- G: oncoplot ----------
(function(){
  const samples=tmbMissense.map((v,i)=>'S'+(i+1));
  // TMB
  const tg=addGrid(1366.3,1250,1804.6,1425);
  const tx=addX({gridIndex:tg,type:'category',data:samples,axisLine:{show:false},axisTick:{show:false},axisLabel:{show:false}});
  const ty=addY({gridIndex:tg,type:'value',min:0,max:1548,offset:4.6,
    axisLine:{show:true,onZero:false,lineStyle:{color:'#222',width:1.3}},
    axisTick:{show:true,length:5,customValues:[0,1548],lineStyle:{color:'#222',width:1.3}},
    axisLabel:{customValues:[0,1548],formatter:v=>String(v),fontFamily:SANS,fontSize:10,color:'#222',margin:9},splitLine:{show:false}});
  [[tmbFrame,BLUE],[tmbInframe,PURPLE],[tmbOther,OLIVE],[tmbMissense,GREEN],[tmbNonsense,RED],[tmbSplice,ORANGE]].forEach(s=>series.push({type:'bar',stack:'tmb',xAxisIndex:tx,yAxisIndex:ty,data:s[0],barWidth:11.3,silent:true,z:2,itemStyle:{color:s[1]}}));
  T('TMB',1340,1336.7,{size:9,rotation:Math.PI/2,align:'center',fill:'#222'});
  T('Altered in 35 (19.02%) of 184 samples.',1640,1227,{size:13.5,weight:'bold',align:'center'});
  // matrix
  const rows=oncoPct.map((p,i)=>oncoLabels[i]);
  const mg=addGrid(1366.3,1434.7,1804.6,2069.3);
  const mx=addX({gridIndex:mg,type:'category',data:samples,show:false});
  const my=addY({gridIndex:mg,type:'category',data:rows,inverse:true,show:false});
  const hit={};oncoHits.forEach(h=>{hit[h[0]+'_'+h[1]]=h[2];});
  const cells=[];rows.forEach((r,i)=>samples.forEach((s,j)=>cells.push([j,i,hit[i+'_'+j]||0])));
  series.push({type:'heatmap',xAxisIndex:mx,yAxisIndex:my,data:cells,silent:true,z:2,itemStyle:{borderColor:'#F0F0F0',borderWidth:1}});
  visualMap.push({type:'piecewise',show:false,seriesIndex:series.length-1,dimension:2,pieces:[{value:0,color:'#CCCCCC'},{value:1,color:GREEN},{value:2,color:BLUE},{value:3,color:RED},{value:4,color:ORANGE},{value:5,color:'#000000'}]});
  // row labels (the last ones overlap in the reference)
  const ly=addY(hiddenVal(mg,-.5,49.5,{inverse:true}));
  series.push({type:'scatter',xAxisIndex:mx,yAxisIndex:ly,symbolSize:1,silent:true,z:5,clip:false,itemStyle:{color:'rgba(0,0,0,0)'},
    data:oncoLabelRows.map(r=>[0,r]),
    label:{show:true,position:'left',distance:9,formatter:p=>oncoLabels[p.dataIndex],fontFamily:SANS,fontStyle:'italic',fontSize:11.5,color:'#222'}});
  R(1290,1430,22.5,640,'#fff',45);
  // percent labels
  addY({gridIndex:mg,type:'category',position:'right',inverse:true,data:oncoPct,axisLine:{show:false,onZero:false},axisTick:{show:false},
    axisLabel:{interval:0,align:'left',margin:2.5,fontFamily:SANS,fontSize:12,color:'#222'}});
  // side bars
  const sg=addGrid(1837.3,1434.7,1957.8,2069.3);
  const sx=addX({gridIndex:sg,type:'value',min:0,max:3,position:'top',offset:3,
    axisLine:{show:true,onZero:false,lineStyle:{color:'#222',width:1.3}},
    axisTick:{show:true,length:5,customValues:[0,3],lineStyle:{color:'#222',width:1.3}},
    axisLabel:{customValues:[0,3],fontFamily:SANS,fontSize:10,color:'#222',margin:5},splitLine:{show:false}});
  const sy=addY({gridIndex:sg,type:'category',data:rows,inverse:true,show:false});
  [[sideMissense,GREEN],[sideFrame,BLUE],[sideNonsense,RED],[sideSplice,ORANGE],[sideMulti,'#000']].forEach(s=>series.push({type:'bar',stack:'side',xAxisIndex:sx,yAxisIndex:sy,data:s[0],barWidth:11.4,silent:true,z:2,itemStyle:{color:s[1]}}));
  T('No. of samples',1897,1424,{size:9,align:'center',fill:'#222'});
  // legend
  [[GREEN,'Missense_Mutation',1327.4,2087.4],[BLUE,'Frame_Shift_Del',1327.4,2100.3],[RED,'Nonsense_Mutation',1327.4,2113.3],[ORANGE,'Splice_Site',1448.7,2087.4],['#000','Multi_Hit',1448.7,2100.3]].forEach(l=>{
    R(l[2]-2.5,l[3]-2.5,5,5,l[0],42);T(l[1],l[2]+10,l[3],{size:11.5,fill:'#222'});
  });
})();

const chart=echarts.init(document.getElementById('c'),null,{renderer:'canvas',width:1959,height:2120});
chart.setOption({animation:false,backgroundColor:'#fff',tooltip:{show:false},polar,angleAxis,radiusAxis,grid,xAxis,yAxis,series,visualMap,graphic:{elements:graphic}});
</script></body></html>
